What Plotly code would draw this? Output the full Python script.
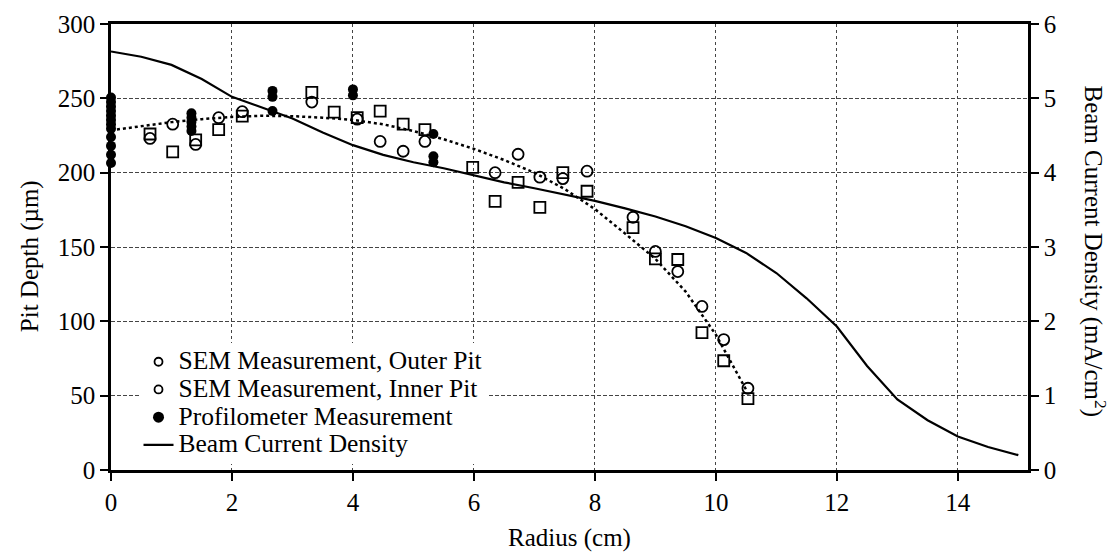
import plotly.graph_objects as go

# ---------------- data ----------------
# Beam current density (right axis, mA/cm^2)
beam_x = [0, 0.5, 1, 1.5, 2, 2.5, 3, 3.5, 4, 4.5, 5, 5.5, 6, 6.5, 7, 7.5, 8, 8.5,
          9, 9.5, 10, 10.5, 11, 11.5, 12, 12.5, 13, 13.5, 14, 14.5, 15]
beam_y = [5.63, 5.56, 5.45, 5.26, 5.02, 4.87, 4.73, 4.54, 4.37, 4.24, 4.14, 4.06, 3.96,
          3.87, 3.79, 3.71, 3.62, 3.52, 3.41, 3.28, 3.12, 2.92, 2.65, 2.31, 1.93, 1.40,
          0.95, 0.67, 0.45, 0.31, 0.20]

# Dotted fit curve through pit depth data (left axis, um)
fit_x = [0, 0.5, 1, 1.5, 2, 2.5, 3, 3.5, 4, 4.5, 5, 5.5, 6, 6.5, 7, 7.5, 8, 8.5,
         9, 9.5, 10, 10.5]
fit_y = [228.5, 231.5, 234, 236, 237.5, 238.3, 238, 237, 235.5, 232.5, 228, 222.5,
         216, 208.5, 200, 189, 175.5, 159, 142, 120, 91, 54]

# SEM measurement, outer pit (open circles)
outer_x = [0.645, 1.02, 1.40, 1.78, 2.17, 3.32, 4.07, 4.45, 4.83, 5.19, 6.35, 6.73,
           7.09, 7.47, 7.87, 8.63, 9.0, 9.37, 9.77, 10.13, 10.53]
outer_y = [223, 232.6, 219, 237, 241, 247.5, 236, 221, 214.4, 221, 200, 212.4,
           197, 196, 201, 170, 147, 133.5, 110, 87.7, 55]

# SEM measurement, inner pit (open squares)
inner_x = [0.645, 1.02, 1.40, 1.78, 2.17, 3.32, 3.69, 4.07, 4.45, 4.83, 5.19, 5.98,
           6.35, 6.73, 7.09, 7.47, 7.87, 8.63, 9.0, 9.37, 9.77, 10.13, 10.53]
inner_y = [226, 214, 222, 229, 238, 254, 240.7, 237, 241.4, 232.6, 229, 203.6,
           180.7, 193.5, 176.7, 200, 187.5, 163, 142, 141.6, 92.4, 73.5, 48]

# Profilometer measurement (filled circles)
prof_x = [0] * 12 + [1.33] * 5 + [2.67] * 3 + [4.0] * 2 + [5.33] * 3
prof_y = [250.5, 247.5, 244.5, 241.5, 238.5, 235.5, 232.5, 229.5, 224, 218, 212, 206.5,
          240, 237, 234, 231, 228,
          255, 251, 241.5,
          256, 252,
          226, 211, 207]

x_ticks = [0, 2, 4, 6, 8, 10, 12, 14]
y_ticks = [0, 50, 100, 150, 200, 250, 300]
y2_ticks = [0, 1, 2, 3, 4, 5, 6]

legend_labels = ["SEM Measurement, Outer Pit", "SEM Measurement, Inner Pit",
                 "Profilometer Measurement", "Beam Current Density"]

FONT = "Liberation Serif"


def lab(t):
    return '<span style="font-size:25.5px">' + t + '</span>'


fig = go.Figure()

fig.add_trace(go.Scatter(x=fit_x, y=fit_y, mode="lines", showlegend=False,
                         line=dict(color="black", width=2.5, dash="dot"),
                         hoverinfo="skip"))
fig.add_trace(go.Scatter(x=outer_x, y=outer_y, mode="markers", showlegend=False,
                         cliponaxis=False,
                         marker=dict(symbol="circle-open", size=11, color="black",
                                     line=dict(width=1.8, color="black"))))
fig.add_trace(go.Scatter(x=inner_x, y=inner_y, mode="markers", showlegend=False,
                         cliponaxis=False,
                         marker=dict(symbol="square-open", size=11, color="black",
                                     line=dict(width=1.8, color="black"))))
fig.add_trace(go.Scatter(x=prof_x, y=prof_y, mode="markers", showlegend=False,
                         cliponaxis=False,
                         marker=dict(symbol="circle", size=10, color="black")))

# legend entries
fig.add_trace(go.Scatter(x=[None], y=[None], mode="markers", name=lab(legend_labels[0]),
                         legendrank=1,
                         marker=dict(symbol="circle-open", size=8, color="black",
                                     line=dict(width=1.8, color="black"))))
fig.add_trace(go.Scatter(x=[None], y=[None], mode="markers", name=lab(legend_labels[1]),
                         legendrank=2,
                         marker=dict(symbol="circle-open", size=8, color="black",
                                     line=dict(width=1.8, color="black"))))
fig.add_trace(go.Scatter(x=[None], y=[None], mode="markers", name=lab(legend_labels[2]),
                         legendrank=3,
                         marker=dict(symbol="circle", size=11, color="black")))
fig.add_trace(go.Scatter(x=beam_x, y=beam_y, mode="lines", name=lab(legend_labels[3]),
                         legendrank=4, yaxis="y2",
                         line=dict(color="black", width=2.2)))

grid_col = "#444444"
fig.update_layout(
    width=1115, height=553,
    margin=dict(l=111, r=87, t=24, b=83),
    paper_bgcolor="white", plot_bgcolor="white",
    font=dict(family=FONT, size=25, color="black"),
    showlegend=True,
    legend=dict(x=0.03, y=0.285, xanchor="left", yanchor="top",
                bgcolor="white", borderwidth=0,
                font=dict(family=FONT, size=19, color="black"),
                tracegroupgap=0, itemwidth=30),
    xaxis=dict(range=[0, 15.16], tickvals=x_ticks, ticktext=[str(v) for v in x_ticks],
               showgrid=True, gridcolor=grid_col, griddash="dot", gridwidth=1,
               showline=True, linecolor="black", linewidth=2.5, mirror=True,
               ticks="outside", ticklen=8, tickwidth=2, tickcolor="black",
               zeroline=False, automargin=False,
               title=dict(text="Radius (cm)", font=dict(size=25), standoff=14)),
    yaxis=dict(range=[0, 300], tickvals=y_ticks, ticktext=[str(v) for v in y_ticks],
               showgrid=True, gridcolor=grid_col, griddash="4px,2px", gridwidth=1,
               showline=True, linecolor="black", linewidth=2.5, mirror=True,
               ticks="outside", ticklen=8, tickwidth=2, tickcolor="black",
               zeroline=False, automargin=False),
    yaxis2=dict(range=[0, 6], tickvals=y2_ticks, ticktext=[str(v) for v in y2_ticks],
                overlaying="y", side="right", showgrid=False, zeroline=False,
                showline=True, linecolor="black", linewidth=2.5, automargin=False,
                ticks="outside", ticklen=8, tickwidth=2, tickcolor="black"),
    annotations=[
        dict(text="Pit Depth (\u00b5m)", xref="paper", yref="paper",
             x=-0.088, y=0.48, xanchor="center", yanchor="middle",
             textangle=-90, showarrow=False, font=dict(size=25)),
        dict(text="Beam Current Density (mA/cm<sup>2</sup>)", xref="paper", yref="paper",
             x=1.073, y=0.49, xanchor="center", yanchor="middle",
             textangle=90, showarrow=False, font=dict(size=25)),
    ],
)

fig.write_html("out.html")
